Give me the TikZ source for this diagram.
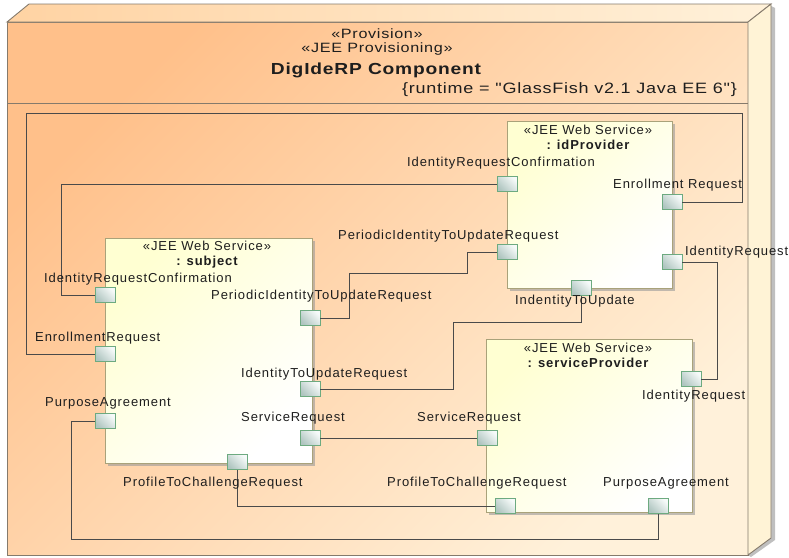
\documentclass[tikz,border=0pt]{standalone}
\usepackage{fontspec}
\setmainfont{Liberation Sans}
\newfontfamily\umlfont[LetterSpace=7]{Liberation Sans}
\newfontfamily\headfont[FakeStretch=1.2,LetterSpace=5]{Liberation Sans}
\usetikzlibrary{shadows}

\definecolor{nodeTop}{HTML}{FFC08A}
\definecolor{nodeLow}{HTML}{FFF1DA}
\definecolor{nodeLid}{HTML}{FFD3A3}
\definecolor{nodeSide}{HTML}{FFF3D6}
\definecolor{nodeEdge}{HTML}{857A6C}
\definecolor{compFill}{HTML}{FFFFD2}
\definecolor{compEdge}{HTML}{A9A27A}
\definecolor{portDark}{HTML}{AFC5C0}
\definecolor{portLight}{HTML}{F6FAF9}
\definecolor{portEdge}{HTML}{6DAA80}
\definecolor{wireCol}{HTML}{4A4A4A}
\definecolor{txtCol}{HTML}{1E1E1E}

\begin{document}
\begin{tikzpicture}[x=1pt,y=-1pt,
  labelfont/.style={font=\umlfont\fontsize{13}{15}\selectfont},
  component/.style={rectangle, draw=compEdge, line width=0.8pt,
    top color=compFill, bottom color=white, shading angle=45,
    drop shadow={shadow xshift=3pt, shadow yshift=-3pt, fill=black!40, opacity=0.6}},
  port/.style={rectangle, draw=portEdge, line width=0.9pt, inner sep=0pt,
    minimum width=20pt, minimum height=15pt,
    top color=portLight, bottom color=portDark, shading angle=-45},
  portlabel/.style={labelfont, text=txtCol, inner sep=0pt, anchor=west},
  stereo/.style={labelfont, text=txtCol, inner sep=0pt},
  partname/.style={font=\umlfont\bfseries\fontsize{13}{15}\selectfont, text=txtCol, inner sep=0pt},
  headtext/.style={font=\headfont\fontsize{13.5}{15}\selectfont, text=txtCol, inner sep=0pt},
  wire/.style={draw=wireCol, line width=0.9pt}
]
\useasboundingbox (0,0) rectangle (789,557);

% ---- deployment node (3D box) ----
\fill[black!25] (771,6) -- (775,8) -- (775,540) -- (751,557) -- (748,555) -- cycle;
\shade[top color=nodeTop, bottom color=nodeLow, shading angle=45, draw=nodeEdge, line width=0.9pt]
  (7,22) rectangle (748,555);
\shade[left color=nodeLid, right color=nodeLow, draw=nodeEdge, line width=0.9pt]
  (7,22) -- (29,4) -- (771,4) -- (748,22) -- cycle;
\fill[nodeSide, draw=nodeEdge, line width=0.9pt]
  (748,22) -- (771,4) -- (771,538) -- (748,555) -- cycle;
\draw[nodeEdge, line width=0.9pt] (7,103) -- (748,103);

\node[headtext] (ndst1) at (377,34) {«Provision»};
\node[headtext] (ndst2) at (377,49) {«JEE Provisioning»};
\node[font=\headfont\bfseries\fontsize{16}{18}\selectfont, text=txtCol, inner sep=0pt] (ndname) at (376,70) {DigIdeRP Component};
\node[font=\headfont\fontsize{15}{17}\selectfont, text=txtCol, inner sep=0pt, anchor=east] (ndtag) at (737,90) {\{runtime = "GlassFish v2.1 Java EE 6"\}};

% ---- parts ----
\node[component, minimum width=207pt, minimum height=225pt] (subject) at (208.5,350.5) {};
\node[component, minimum width=165pt, minimum height=167pt] (idp) at (589.5,204.5) {};
\node[component, minimum width=206pt, minimum height=173pt] (sp) at (589,425.5) {};

\node[stereo] (subjst) at (207,246) {«JEE Web Service»};
\node[partname] (subjnm) at (207,262) {: subject};
\node[stereo] (idpst) at (588,130) {«JEE Web Service»};
\node[partname] (idpnm) at (588,145) {: idProvider};
\node[stereo] (spst) at (588,348) {«JEE Web Service»};
\node[partname] (spnm) at (588,363) {: serviceProvider};

% ---- ports ----
% subject
\node[port] (sIRC)   at (105,295) {};
\node[port] (sER)    at (105,354) {};
\node[port] (sPA)    at (105,421) {};
\node[port] (sPITUR) at (310,318) {};
\node[port] (sITUR)  at (310,389) {};
\node[port] (sSR)    at (310,438) {};
\node[port] (sPTC)   at (237,462) {};
% idProvider
\node[port] (pIRC)   at (507,184) {};
\node[port] (pPITUR) at (507,252) {};
\node[port] (pER)    at (672,202) {};
\node[port] (pIR)    at (672,262) {};
\node[port] (pITU)   at (581,288) {};
% serviceProvider
\node[port] (spIR)   at (691,379) {};
\node[port] (spSR)   at (487,438) {};
\node[port] (spPTC)  at (505,506) {};
\node[port] (spPA)   at (658,506) {};

% ---- connectors ----
\draw[wire] (sIRC.west) -| (61,184) -- (pIRC.west);
\draw[wire] (sER.west) -| (26,113) -| (742,202) -- (pER.east);
\draw[wire] (sPA.west) -| (71,539) -| (spPA.south);
\draw[wire] (sPITUR.east) -| (349,273) -| (467,252) -- (pPITUR.west);
\draw[wire] (sITUR.east) -| (453,322) -| (pITU.south);
\draw[wire] (sSR.east) -- (spSR.west);
\draw[wire] (sPTC.south) |- (spPTC.west);
\draw[wire] (pIR.east) -| (717,379) -- (spIR.east);

% ---- port labels ----
\node[portlabel] (lsIRC)   at (44,279)  {IdentityRequestConfirmation};
\node[portlabel] (lsER)    at (35,338)  {EnrollmentRequest};
\node[portlabel] (lsPA)    at (45,403)  {PurposeAgreement};
\node[portlabel] (lsPITUR) at (211,296) {PeriodicIdentityToUpdateRequest};
\node[portlabel] (lsITUR)  at (241,374) {IdentityToUpdateRequest};
\node[portlabel] (lsSR)    at (241,418) {ServiceRequest};
\node[portlabel] (lsPTC)   at (123,483) {ProfileToChallengeRequest};
\node[portlabel] (lpIRC)   at (407,163) {IdentityRequestConfirmation};
\node[portlabel] (lpER)    at (613,185) {Enrollment Request};
\node[portlabel] (lpPITUR) at (338,236) {PeriodicIdentityToUpdateRequest};
\node[portlabel] (lpIR)    at (685,252) {IdentityRequest};
\node[portlabel] (lpITU)   at (515,301) {IndentityToUpdate};
\node[portlabel] (lspIR)   at (642,396) {IdentityRequest};
\node[portlabel] (lspSR)   at (417,418) {ServiceRequest};
\node[portlabel] (lspPTC)  at (387,483) {ProfileToChallengeRequest};
\node[portlabel] (lspPA)   at (603,483) {PurposeAgreement};
\end{tikzpicture}
\end{document}
